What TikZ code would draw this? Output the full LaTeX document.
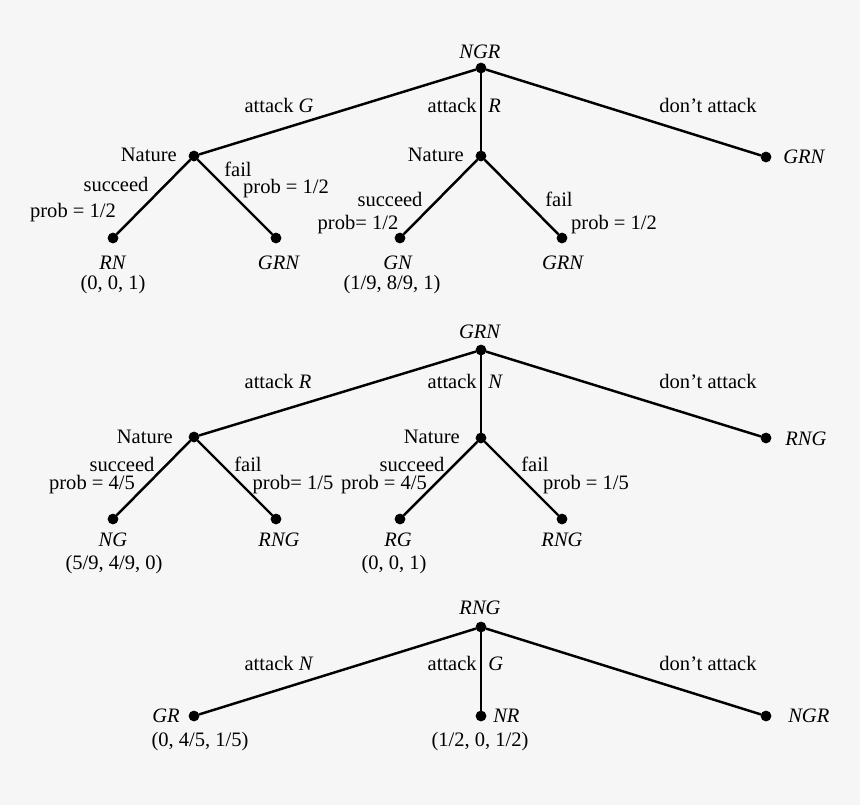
\documentclass[tikz,border=0pt]{standalone}
\usepackage{fontspec}
\setmainfont{Liberation Serif}
\usetikzlibrary{positioning}
\definecolor{bggray}{gray}{0.965}
\tikzset{
  vertex/.style={
    inner sep = 0pt,
    shape = circle,
    minimum size = 7.2pt,
    draw,
    fill
  },
  branch/.style={
    line width = 1.75pt
  },
  lbl/.style={
    anchor = base,
    inner sep = 0pt
  },
  lblL/.style={
    anchor = base east,
    inner sep = 0pt
  },
  lblR/.style={
    anchor = base west,
    inner sep = 0pt
  }
}

\begin{document}
\begin{tikzpicture}[x=0.025cm, y=-0.025cm, font=\fontsize{14.6pt}{17pt}\selectfont]
        \fill[bggray] (0,0) rectangle (860,805);
        \useasboundingbox (0,0) rectangle (860,805);

        % first tree: NGR
        \node[vertex] (t1root) at (481,68) {};
        \node[vertex] (t1natA) at (194,156) {};
        \node[vertex] (t1natB) at (481,156) {};
        \node[vertex] (t1stay) at (766,157) {};
        \node[vertex] (t1a) at (113,238) {};
        \node[vertex] (t1b) at (276,238) {};
        \node[vertex] (t1c) at (400,238) {};
        \node[vertex] (t1d) at (562,238) {};

        \draw[branch] (t1root) -- (t1natA);
        \draw[branch] (t1root) -- (t1natB);
        \draw[branch] (t1root) -- (t1stay);
        \draw[branch] (t1natA) -- (t1a);
        \draw[branch] (t1natA) -- (t1b);
        \draw[branch] (t1natB) -- (t1c);
        \draw[branch] (t1natB) -- (t1d);

        \node[lbl] (t1rootL) at (480,58) {\textit{NGR}};
        \node[lbl] (t1e1) at (279,112) {attack \textit{G}};
        \node[lblL] (t1e2) at (477,112) {attack};
        \node[lblR] (t1e2x) at (488,112) {\textit{R}};
        \node[lbl] (t1e3) at (708,112) {don't attack};
        \node[lblL] (t1natAL) at (177,161) {Nature};
        \node[lblL] (t1natBL) at (464,161) {Nature};
        \node[lblR] (t1stayL) at (783,163) {\textit{GRN}};
        \node[lbl] (t1s1) at (116,191) {succeed};
        \node[lbl] (t1p1) at (73,217) {prob = 1/2};
        \node[lbl] (t1f1) at (238,176) {fail};
        \node[lbl] (t1q1) at (286,193) {prob = 1/2};
        \node[lbl] (t1s2) at (390,206) {succeed};
        \node[lbl] (t1p2) at (358,229) {prob= 1/2};
        \node[lbl] (t1f2) at (559,206) {fail};
        \node[lbl] (t1q2) at (614,229) {prob = 1/2};
        \node[lbl] (t1aL) at (113,269) {\textit{RN}};
        \node[lbl] (t1aV) at (113,289) {(0, 0, 1)};
        \node[lbl] (t1bL) at (279,269) {\textit{GRN}};
        \node[lbl] (t1cL) at (398,269) {\textit{GN}};
        \node[lbl] (t1cV) at (392,289) {(1/9, 8/9, 1)};
        \node[lbl] (t1dL) at (563,269) {\textit{GRN}};

        % second tree: GRN
        \node[vertex] (t2root) at (481,350) {};
        \node[vertex] (t2natA) at (194,437) {};
        \node[vertex] (t2natB) at (481,438) {};
        \node[vertex] (t2stay) at (766,438) {};
        \node[vertex] (t2a) at (113,519) {};
        \node[vertex] (t2b) at (276,519) {};
        \node[vertex] (t2c) at (400,519) {};
        \node[vertex] (t2d) at (562,519) {};

        \draw[branch] (t2root) -- (t2natA);
        \draw[branch] (t2root) -- (t2natB);
        \draw[branch] (t2root) -- (t2stay);
        \draw[branch] (t2natA) -- (t2a);
        \draw[branch] (t2natA) -- (t2b);
        \draw[branch] (t2natB) -- (t2c);
        \draw[branch] (t2natB) -- (t2d);

        \node[lbl] (t2rootL) at (480,338) {\textit{GRN}};
        \node[lbl] (t2e1) at (278,388) {attack \textit{R}};
        \node[lblL] (t2e2) at (477,388) {attack};
        \node[lblR] (t2e2x) at (488,388) {\textit{N}};
        \node[lbl] (t2e3) at (708,388) {don't attack};
        \node[lblL] (t2natAL) at (173,443) {Nature};
        \node[lblL] (t2natBL) at (460,443) {Nature};
        \node[lblR] (t2stayL) at (785,445) {\textit{RNG}};
        \node[lbl] (t2s1) at (122,471) {succeed};
        \node[lbl] (t2p1) at (92,489) {prob = 4/5};
        \node[lbl] (t2f1) at (248,471) {fail};
        \node[lbl] (t2q1) at (293,489) {prob= 1/5};
        \node[lbl] (t2s2) at (412,471) {succeed};
        \node[lbl] (t2p2) at (384,489) {prob = 4/5};
        \node[lbl] (t2f2) at (535,471) {fail};
        \node[lbl] (t2q2) at (586,489) {prob = 1/5};
        \node[lbl] (t2aL) at (113,546) {\textit{NG}};
        \node[lbl] (t2aV) at (114,569) {(5/9, 4/9, 0)};
        \node[lbl] (t2bL) at (279,546) {\textit{RNG}};
        \node[lbl] (t2cL) at (398,546) {\textit{RG}};
        \node[lbl] (t2cV) at (394,569) {(0, 0, 1)};
        \node[lbl] (t2dL) at (562,546) {\textit{RNG}};

        % third tree: RNG
        \node[vertex] (t3root) at (481,627) {};
        \node[vertex] (t3a) at (194,716) {};
        \node[vertex] (t3b) at (481,716) {};
        \node[vertex] (t3c) at (766,716) {};

        \draw[branch] (t3root) -- (t3a);
        \draw[branch] (t3root) -- (t3b);
        \draw[branch] (t3root) -- (t3c);

        \node[lbl] (t3rootL) at (480,614) {\textit{RNG}};
        \node[lbl] (t3e1) at (279,670) {attack \textit{N}};
        \node[lblL] (t3e2) at (477,670) {attack};
        \node[lblR] (t3e2x) at (488,670) {\textit{G}};
        \node[lbl] (t3e3) at (708,670) {don't attack};
        \node[lblL] (t3aL) at (180,722) {\textit{GR}};
        \node[lblR] (t3bL) at (493,722) {\textit{NR}};
        \node[lblR] (t3cL) at (788,722) {\textit{NGR}};
        \node[lbl] (t3aV) at (200,746) {(0, 4/5, 1/5)};
        \node[lbl] (t3bV) at (480,746) {(1/2, 0, 1/2)};
\end{tikzpicture}
\end{document}
